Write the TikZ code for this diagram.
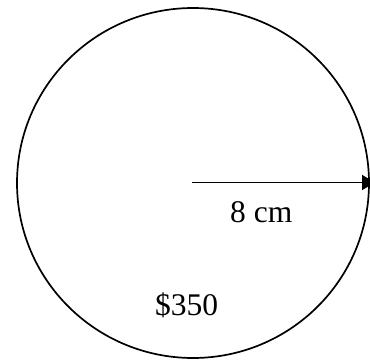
\documentclass[tikz,border=0pt]{standalone}
\usepackage{fontspec}
\setmainfont{Liberation Serif}
\usetikzlibrary{arrows.meta}
\tikzset{
  lbl/.style={anchor=base west, inner sep=0pt, font=\fontsize{31.5}{36}\selectfont},
  outline/.style={draw=black, line width=1.7pt},
  radius arrow/.style={draw=black, line width=1.7pt, -{Triangle[length=13pt,width=15pt]}}
}
\begin{document}
\begin{tikzpicture}[x=1pt,y=1pt]
\useasboundingbox (0,0) rectangle (370,360);
\draw[outline] (193,177) ellipse [x radius=176, y radius=175];
\coordinate (c) at (192,177.5);
\coordinate (e) at (375,177.5);
\draw[radius arrow] (c) -- (e);
\node[lbl] (r) at (230,138) {8 cm};
\node[lbl] (p) at (155,45) {\$350};
\end{tikzpicture}
\end{document}
